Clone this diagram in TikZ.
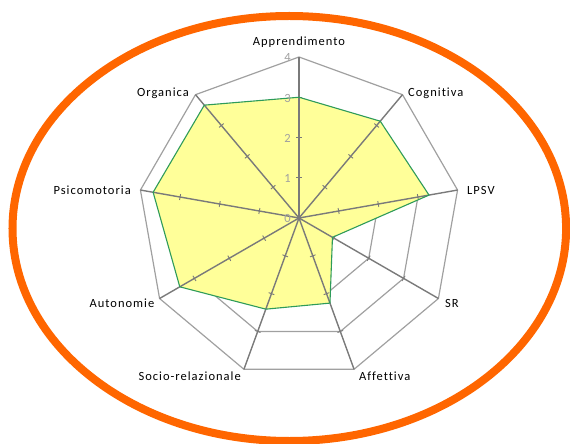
\documentclass[tikz,border=0pt]{standalone}
\usepackage{fontspec}
\setmainfont{Carlito}[LetterSpace=8,Ligatures=NoCommon]
\definecolor{ringgray}{HTML}{A0A0A0}
\definecolor{axisgray}{HTML}{7A7A7A}
\definecolor{numgray}{HTML}{A0A0A0}
\definecolor{fillyellow}{HTML}{FFFF99}
\definecolor{datagreen}{HTML}{2E9B5A}
\definecolor{ovalorange}{HTML}{FF6600}
\begin{document}
\begin{tikzpicture}[x=1pt,y=1pt,
  ring/.style={draw=ringgray, line width=1.2pt, line join=round},
  axisline/.style={draw=axisgray, line width=1.4pt},
  tickmark/.style={draw=axisgray, line width=0.9pt},
  catlabel/.style={font=\fontsize{12.5}{14}\selectfont, text=black, inner sep=0pt, text height=8pt, text depth=0pt},
  numlabel/.style={font=\fontsize{12.5}{14}\selectfont, text=numgray, inner sep=0pt, text height=8pt, text depth=0pt, anchor=east},
  datafill/.style={fill=fillyellow},
  dataline/.style={draw=datagreen, line width=1.1pt, line join=round},
  oval/.style={draw=ovalorange, line width=8pt}]
\useasboundingbox (-299,-226) rectangle (271,218);
\def\u{40.25}
\coordinate (C) at (0,0);
% axis ends
\foreach \a [count=\i] in {90,50,10,-30,-70,-110,-150,170,130}
  \coordinate (ax\i) at (\a:4*\u);
% data points
\foreach \a/\v [count=\i] in {90/3,50/3.14,10/3.28,-30/0.96,-70/2.25,-110/2.41,-150/3.42,170/3.68,130/3.66}
  \coordinate (d\i) at (\a:\v*\u);
% rings
\foreach \k in {1,2,3,4}
  \draw[ring] (90:\k*\u) \foreach \a in {50,10,-30,-70,-110,-150,170,130}{ -- (\a:\k*\u)} -- cycle;
% data fill
\fill[datafill] (d1) -- (d2) -- (d3) -- (d4) -- (d5) -- (d6) -- (d7) -- (d8) -- (d9) -- cycle;
% axes and ticks
\foreach \a [count=\i] in {90,50,10,-30,-70,-110,-150,170,130}{
  \draw[axisline] (C) -- (ax\i);
  \foreach \k in {1,2,3}
    \draw[tickmark] (\a:\k*\u) ++(\a+90:3) -- ++(\a-90:6);
}
% data outline
\draw[dataline] (d1) -- (d2) -- (d3) -- (d4) -- (d5) -- (d6) -- (d7) -- (d8) -- (d9) -- cycle;
% scale numbers
\foreach \k in {0,1,2,3,4}
  \node[numlabel] (n\k) at (-8,\k*\u-1) {\k};
% category labels
\node[catlabel] (l1) at (0,176) {Apprendimento};
\node[catlabel, anchor=west] (l2) at (109,125) {Cognitiva};
\node[catlabel, anchor=west] (l3) at (168,27) {LPSV};
\node[catlabel, anchor=west] (l4) at (146,-85) {SR};
\node[catlabel, anchor=west] (l5) at (60,-158) {Affettiva};
\node[catlabel, anchor=east] (l6) at (-58,-158) {Socio-relazionale};
\node[catlabel, anchor=east] (l7) at (-144.5,-85) {Autonomie};
\node[catlabel, anchor=east] (l8) at (-168,27) {Psicomotoria};
\node[catlabel, anchor=east] (l9) at (-110,125) {Organica};
% orange oval
\draw[oval] (-9.7,-10.5) ellipse [x radius=276.8, y radius=212.5];
\end{tikzpicture}
\end{document}
